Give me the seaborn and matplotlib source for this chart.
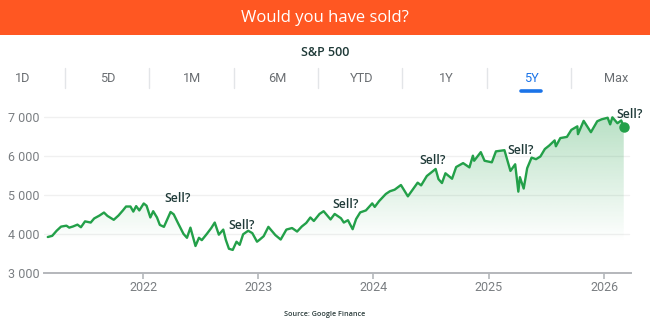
import numpy as np
import pandas as pd
import matplotlib
matplotlib.use("Agg")
import matplotlib.pyplot as plt
import matplotlib.dates as mdates
from matplotlib.patches import Rectangle
from matplotlib.ticker import FuncFormatter, FixedLocator
from matplotlib.lines import Line2D
import seaborn as sns

# ---------------- data ----------------
dates = [
    "2021-03-05", "2021-03-19", "2021-04-02", "2021-04-16", "2021-05-03", "2021-05-12",
    "2021-05-24", "2021-06-07", "2021-06-18", "2021-07-01", "2021-07-19", "2021-07-30",
    "2021-08-16", "2021-08-30", "2021-09-10", "2021-09-30", "2021-10-15", "2021-10-29",
    "2021-11-08", "2021-11-22", "2021-12-01", "2021-12-10", "2021-12-20", "2022-01-03",
    "2022-01-12", "2022-01-24", "2022-02-02", "2022-02-14", "2022-02-23", "2022-03-08",
    "2022-03-29", "2022-04-08", "2022-04-22", "2022-05-09", "2022-05-20", "2022-05-31",
    "2022-06-16", "2022-06-27", "2022-07-06", "2022-07-22", "2022-08-05", "2022-08-16",
    "2022-08-29", "2022-09-12", "2022-09-20", "2022-09-30", "2022-10-12", "2022-10-24",
    "2022-11-03", "2022-11-14", "2022-11-30", "2022-12-13", "2022-12-28", "2023-01-05",
    "2023-01-18", "2023-02-02", "2023-02-24", "2023-03-13", "2023-03-31", "2023-04-18",
    "2023-05-04", "2023-05-19", "2023-06-02", "2023-06-15", "2023-06-26", "2023-07-14",
    "2023-07-27", "2023-08-18", "2023-08-31", "2023-09-20", "2023-09-29", "2023-10-12",
    "2023-10-27", "2023-11-07", "2023-11-20", "2023-12-08", "2023-12-28", "2024-01-05",
    "2024-01-19", "2024-02-09", "2024-02-22", "2024-03-08", "2024-03-28", "2024-04-19",
    "2024-05-03", "2024-05-20", "2024-05-31", "2024-06-18", "2024-07-16", "2024-07-25",
    "2024-08-05", "2024-08-16", "2024-09-06", "2024-09-19", "2024-10-11", "2024-10-31",
    "2024-11-11", "2024-11-15", "2024-12-06", "2024-12-18", "2025-01-10", "2025-01-23",
    "2025-02-19", "2025-03-10", "2025-03-25", "2025-04-04", "2025-04-09", "2025-04-21",
    "2025-05-02", "2025-05-16", "2025-05-30", "2025-06-13", "2025-06-27", "2025-07-11",
    "2025-07-28", "2025-08-01", "2025-08-15", "2025-09-05", "2025-09-19", "2025-10-08",
    "2025-10-10", "2025-10-28", "2025-11-20", "2025-12-10", "2025-12-24", "2026-01-12",
    "2026-01-20", "2026-01-27", "2026-02-12", "2026-02-24", "2026-03-04",
]
values = [
    3920, 3950, 4080, 4186, 4210, 4160,
    4190, 4237, 4170, 4320, 4290, 4395,
    4470, 4546, 4460, 4360, 4470, 4600,
    4700, 4700, 4570, 4710, 4600, 4778,
    4720, 4420, 4580, 4420, 4230, 4180,
    4560, 4500, 4270, 4000, 3900, 4160,
    3690, 3900, 3840, 4000, 4150, 4290,
    3980, 4110, 3850, 3620, 3590, 3800,
    3720, 3990, 4080, 4020, 3800, 3850,
    3940, 4180, 3970, 3855, 4110, 4150,
    4060, 4190, 4280, 4420, 4330, 4510,
    4580, 4370, 4510, 4400, 4290, 4350,
    4120, 4380, 4550, 4600, 4780, 4690,
    4840, 5020, 5090, 5130, 5250, 4960,
    5120, 5310, 5240, 5480, 5660, 5400,
    5300, 5550, 5410, 5710, 5810, 5700,
    6000, 5870, 6090, 5870, 5830, 6110,
    6140, 5610, 5780, 5080, 5450, 5160,
    5680, 5950, 5910, 5980, 6170, 6260,
    6390, 6240, 6450, 6480, 6660, 6750,
    6550, 6890, 6600, 6880, 6930, 6970,
    6800, 6980, 6830, 6900, 6740,
]
year_ticks = ["2022", "2023", "2024", "2025", "2026"]
y_ticks = [3000, 4000, 5000, 6000, 7000]
tabs = ["1D", "5D", "1M", "6M", "YTD", "1Y", "5Y", "Max"]
active_tab = "5Y"
sell_label = "Sell?"
sell_dates = ["2022-04-20", "2022-11-10", "2023-10-05", "2024-07-07", "2025-04-10", "2026-03-24"]
sell_levels = [4910, 4213, 4755, 5865, 6123, 7050]

title = "Would you have sold?"
subtitle = "S&P 500"
source = "Source: Google Finance"

# ---------------- styling ----------------
sns.set_theme(style="white")
plt.rcParams["font.family"] = ["Roboto", "DejaVu Sans"]

W, H, DPI = 650, 330, 100
fig = plt.figure(figsize=(W / DPI, H / DPI), dpi=DPI)
fig.patch.set_facecolor("white")

def fy(py):
    return 1 - py / H

def fx(px):
    return px / W

# banner
fig.patches.append(Rectangle((0, fy(35)), 1, 35 / H, transform=fig.transFigure,
                             facecolor="#FF5722", edgecolor="none", zorder=0))
fig.text(0.5, fy(17.5), title, ha="center", va="center", color="white",
         fontsize=12, family=["Open Sans", "DejaVu Sans"])
fig.text(0.5, fy(52), subtitle, ha="center", va="center", color="#1f3a38",
         fontsize=9, fontweight="semibold", family=["Open Sans", "DejaVu Sans"])

# tabs
for i, t in enumerate(tabs):
    cx = 23 + i * 84.7
    col = "#1a73e8" if t == active_tab else "#6b6f73"
    fig.text(fx(cx), fy(79), t, ha="center", va="center", color=col, fontsize=9.2)
    if t == active_tab:
        fig.lines.append(Line2D([fx(cx - 10), fx(cx + 10)], [fy(91), fy(91)],
                                transform=fig.transFigure, color="#1a73e8",
                                linewidth=2.6, solid_capstyle="round"))
    if i > 0:
        sx = 65 + (i - 1) * 84.3
        fig.lines.append(Line2D([fx(sx), fx(sx)], [fy(68), fy(88)],
                                transform=fig.transFigure, color="#e3e5e8", linewidth=1))

fig.text(0.5, fy(314), source, ha="center", va="center", color="#2e3f3e",
         fontsize=5.2, fontweight="semibold", family=["Open Sans", "DejaVu Sans"])

# ---------------- chart ----------------
ax_left, ax_right, ax_top, ax_bottom = 44, 631, 106, 273
ax = fig.add_axes([fx(ax_left), fy(ax_bottom), (ax_right - ax_left) / W,
                   (ax_bottom - ax_top) / H])
ax.set_facecolor("none")

df = pd.DataFrame({"date": pd.to_datetime(dates), "value": values})
line_color = "#23a049"

sns.lineplot(data=df, x="date", y="value", ax=ax, color=line_color,
             linewidth=1.7, zorder=4)

xnum = mdates.date2num(df["date"])
xmin = mdates.date2num(pd.Timestamp("2021-02-21"))
xmax = mdates.date2num(pd.Timestamp("2026-03-27"))
ymin, ymax = 3000, 7270
ax.set_xlim(xmin, xmax)
ax.set_ylim(ymin, ymax)

# gradient fill clipped under the line
poly = ax.fill_between(xnum, df["value"], ymin, color="none", linewidth=0)
ny = 300
levels = np.linspace(ymax, ymin, ny)
alpha = np.clip(0.32 * (levels - 3800) / 3200, 0, 1)
rgba = np.zeros((ny, 2, 4))
rgba[..., 0] = 0x23 / 255
rgba[..., 1] = 0xA0 / 255
rgba[..., 2] = 0x49 / 255
rgba[..., 3] = alpha[:, None]
im = ax.imshow(rgba, extent=[xnum[0], xnum[-1], ymin, ymax], aspect="auto",
               origin="upper", zorder=2, interpolation="bilinear")
path = poly.get_paths()[0]
im.set_clip_path(path, transform=ax.transData)

# end dot
ax.plot(xnum[-1], values[-1], "o", color=line_color, markersize=6.5, zorder=5)

# grid lines
for v in y_ticks[1:]:
    ax.plot([xmin, mdates.date2num(pd.Timestamp("2026-03-20"))], [v, v],
            color="#f0f0f0", linewidth=1, zorder=1)

# axes styling
for s in ["top", "right", "left"]:
    ax.spines[s].set_visible(False)
ax.spines["bottom"].set_color("#b4b7bb")
ax.spines["bottom"].set_linewidth(1.4)
ax.set_xlabel("")
ax.set_ylabel("")
ax.yaxis.set_major_locator(FixedLocator(y_ticks))
ax.yaxis.set_major_formatter(FuncFormatter(lambda v, p: f"{int(v):,}".replace(",", " ")))
ax.tick_params(axis="y", length=0, pad=3, labelsize=9, labelcolor="#7a7e82")
xt = [mdates.date2num(pd.Timestamp(f"{y}-01-01")) for y in year_ticks]
ax.set_xticks(xt)
ax.set_xticklabels(year_ticks)
ax.tick_params(axis="x", length=4, width=1.2, color="#b4b7bb", pad=2,
               labelsize=9, labelcolor="#7a7e82", direction="out", bottom=True)

# Sell? annotations
for d, lv in zip(sell_dates, sell_levels):
    ax.text(mdates.date2num(pd.Timestamp(d)), lv, sell_label, ha="center", va="center",
            fontsize=8.8, fontweight="semibold", color="#1f3a38",
            family=["Open Sans", "DejaVu Sans"], zorder=6, clip_on=False)

fig.savefig("out.png", dpi=DPI)
